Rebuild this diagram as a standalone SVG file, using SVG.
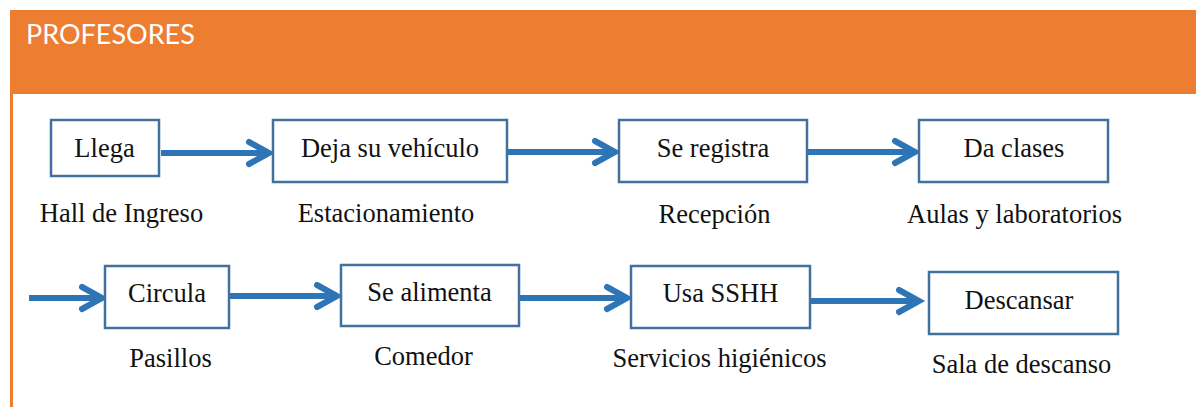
<svg xmlns="http://www.w3.org/2000/svg" width="1196" height="407" viewBox="0 0 1196 407">
<style>
.b{fill:#fff;stroke:#41719c;stroke-width:2.5}
.t{font-family:"Liberation Serif",serif;font-size:26.5px;fill:#111;text-anchor:middle}
.c{fill:none;stroke:#2e75b6;stroke-width:6}
.w{fill:none;stroke:#2e75b6;stroke-width:6;stroke-linecap:round;stroke-linejoin:miter}
.h{font-family:Lato,sans-serif;font-size:27px;fill:#fff}
</style>
<defs>
<path id="head" class="w" d="M-23 -11L-3 0L-23 11"/>
</defs>
<rect width="1196" height="407" fill="#fff"/>
<rect x="10" y="10" width="1186" height="84" fill="#ed7d31"/>
<rect x="10" y="94" width="3" height="313" fill="#ed7d31"/>
<text class="h" x="26" y="44">PROFESORES</text>
<g id="connectors">
<path class="c" d="M161 153H268"/><use href="#head" x="272" y="153"/>
<path class="c" d="M508 152H614"/><use href="#head" x="618" y="152"/>
<path class="c" d="M808 152H914"/><use href="#head" x="918" y="152"/>
<path class="c" d="M29 298H101"/><use href="#head" x="105" y="298"/>
<path class="c" d="M230 296H336"/><use href="#head" x="340" y="296"/>
<path class="c" d="M520 298H626"/><use href="#head" x="630" y="298"/>
<path class="c" d="M811 301H918"/><use href="#head" x="922" y="301"/>
</g>
<g id="n1"><rect class="b" x="51" y="120" width="108" height="56"/><text class="t" x="104.5" y="156.5">Llega</text></g>
<g id="n2"><rect class="b" x="273" y="120" width="234" height="62"/><text class="t" x="390" y="156.5">Deja su vehículo</text></g>
<g id="n3"><rect class="b" x="619" y="120" width="188" height="62"/><text class="t" x="713" y="156.5">Se registra</text></g>
<g id="n4"><rect class="b" x="919" y="120" width="189" height="62"/><text class="t" x="1014" y="156.5">Da clases</text></g>
<g id="n5"><rect class="b" x="105" y="266" width="124" height="62"/><text class="t" x="167" y="302">Circula</text></g>
<g id="n6"><rect class="b" x="341" y="265" width="178" height="61"/><text class="t" x="429.5" y="300.5">Se alimenta</text></g>
<g id="n7"><rect class="b" x="631" y="266" width="179" height="62"/><text class="t" x="720.5" y="301.5">Usa SSHH</text></g>
<g id="n8"><rect class="b" x="929" y="272" width="189" height="62"/><text class="t" x="1019" y="309">Descansar</text></g>
<text class="t" x="121.5" y="221.5">Hall de Ingreso</text>
<text class="t" x="386" y="221.5">Estacionamiento</text>
<text class="t" x="714.5" y="222.5">Recepción</text>
<text class="t" x="1014.5" y="222.5">Aulas y laboratorios</text>
<text class="t" x="170.5" y="367">Pasillos</text>
<text class="t" x="423.5" y="365">Comedor</text>
<text class="t" x="719.5" y="367">Servicios higiénicos</text>
<text class="t" x="1021.5" y="373">Sala de descanso</text>
</svg>
